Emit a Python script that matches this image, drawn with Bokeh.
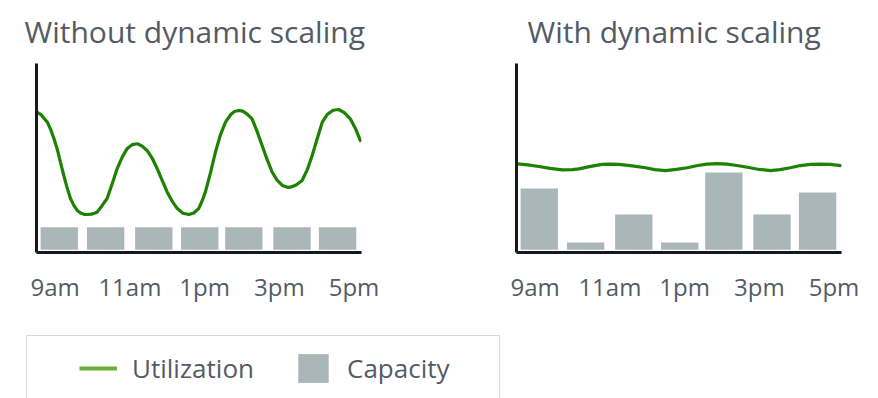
from bokeh.plotting import figure
from bokeh.models import Range1d, FixedTicker, Legend, LegendItem
from bokeh.layouts import row, column
from bokeh.embed import file_html
from bokeh.resources import INLINE

# ---------------- data ----------------
tick_hours = [9, 11, 13, 15, 17]
tick_labels = ["9am", "11am", "1pm", "3pm", "5pm"]

bar_hours = [9.11, 10.35, 11.64, 12.87, 14.05, 15.34, 16.56]
capacity_without = [12.1, 12.1, 12.1, 12.1, 12.1, 12.1, 12.1]
capacity_with = [32.9, 3.9, 18.9, 3.9, 41.5, 18.9, 30.7]

util_without_hours = [8.52, 8.62, 8.70, 8.79, 8.88, 8.97, 9.05, 9.14, 9.23, 9.32, 9.41,
                      9.50, 9.59, 9.68, 9.77, 9.87, 9.97, 10.05, 10.12, 10.25, 10.39,
                      10.52, 10.66, 10.80, 10.93, 11.06, 11.20, 11.33, 11.46, 11.60,
                      11.73, 11.87, 12.00, 12.14, 12.27, 12.42, 12.58, 12.71, 12.84,
                      12.93, 13.02, 13.16, 13.29, 13.42, 13.56, 13.70, 13.80, 13.91,
                      14.02, 14.14, 14.27, 14.40, 14.54, 14.67, 14.81, 14.94, 15.08,
                      15.22, 15.30, 15.45, 15.61, 15.75, 15.88, 16.02, 16.15, 16.28,
                      16.44, 16.59, 16.74, 16.90, 17.04, 17.17]
util_without = [73.8, 72.6, 70.6, 68.5, 64.5, 59.5, 54.4, 47.0, 39.9, 33.2, 27.5,
                23.8, 21.1, 19.7, 19.0, 18.9, 19.1, 19.6, 20.1, 23.5, 27.5,
                35.0, 43.6, 50.0, 54.4, 56.4, 56.9, 55.6, 53.3, 49.0,
                43.6, 37.0, 30.9, 25.8, 22.1, 19.6, 18.9, 19.7, 22.1,
                26.0, 30.9, 41.5, 52.4, 61.5, 68.5, 72.6, 74.2, 74.8,
                74.4, 72.8, 70.3, 63.8, 56.0, 48.6, 41.6, 37.4, 34.5,
                33.5, 33.6, 34.8, 37.2, 43.0, 50.6, 60.0, 68.5, 72.6,
                74.9, 75.3, 73.6, 70.3, 65.0, 58.6]

util_with_hours = [8.52, 8.80, 9.10, 9.40, 9.72, 10.00, 10.17, 10.45, 10.79, 11.00,
                   11.24, 11.60, 11.95, 12.20, 12.49, 12.78, 13.07, 13.35, 13.60,
                   13.87, 14.14, 14.40, 14.68, 15.00, 15.30, 15.55, 15.83, 16.10,
                   16.37, 16.62, 16.90, 17.17]
util_with = [46.1, 45.6, 44.7, 43.7, 42.9, 43.0, 43.4, 44.6, 45.8, 46.0,
             45.8, 45.0, 44.0, 43.0, 42.5, 43.1, 44.0, 45.2, 46.0,
             46.2, 46.0, 45.2, 44.3, 43.1, 42.5, 43.0, 44.0, 45.2,
             45.8, 46.0, 45.8, 45.2]

titles = ["Without dynamic scaling", "With dynamic scaling"]
legend_labels = ["Utilization", "Capacity"]

# ---------------- style ----------------
TEXT = "#545b64"
AXIS = "#16191f"
GREEN = "#1d8102"
LEGEND_GREEN = "#6aaf35"
GREY = "#aab7b8"
FONT = "Open Sans"


def panel(title, width, border_left, border_right, title_offset, hours, util, capacity):
    p = figure(width=width, height=330, output_backend="svg", toolbar_location=None,
               x_range=Range1d(8.5, 17.2), y_range=Range1d(-1.5, 100),
               min_border_left=border_left, min_border_right=border_right,
               min_border_top=63, min_border_bottom=78)
    p.outline_line_color = None
    p.grid.visible = False
    p.background_fill_color = "white"
    p.border_fill_color = "white"

    p.title.text = title
    p.title.align = "left"
    p.title.vertical_align = "top"
    p.title.offset = title_offset
    p.title.text_font = FONT
    p.title.text_font_size = "30px"
    p.title.text_font_style = "normal"
    p.title.text_color = TEXT
    p.title.standoff = 19

    xa = p.below[0]
    xa.ticker = FixedTicker(ticks=tick_hours)
    xa.major_label_overrides = dict(zip(tick_hours, tick_labels))
    xa.major_tick_out = 0
    xa.major_tick_in = 0
    xa.minor_tick_line_color = None
    xa.major_tick_line_color = None
    xa.major_label_standoff = 17
    xa.major_label_text_font = FONT
    xa.major_label_text_font_size = "24px"
    xa.major_label_text_color = TEXT
    xa.axis_line_width = 3
    xa.axis_line_color = AXIS

    ya = p.left[0]
    ya.ticker = FixedTicker(ticks=[])
    ya.major_tick_out = 0
    ya.major_tick_in = 0
    ya.minor_tick_line_color = None
    ya.major_label_standoff = 0
    ya.axis_line_width = 3
    ya.axis_line_color = AXIS

    p.vbar(x=bar_hours, top=capacity, bottom=0, width=1.0,
           fill_color=GREY, line_color=None)
    p.line(x=hours, y=util, line_color=GREEN, line_width=3.2,
           line_join="round", line_cap="round")
    return p


p1 = panel(titles[0], 500, 36, 139, -12, util_without_hours, util_without, capacity_without)
p2 = panel(titles[1], 378, 16, 37, 11, util_with_hours, util_with, capacity_with)

# ---------------- key ----------------
key = figure(width=500, height=68, output_backend="svg", toolbar_location=None,
             x_range=Range1d(0, 1), y_range=Range1d(0, 1),
             min_border=0, x_axis_type=None, y_axis_type=None)
key.outline_line_color = None
key.grid.visible = False
key.background_fill_color = "white"
key.border_fill_color = "white"

nan = float("nan")
util_key = key.line(x=[nan], y=[nan], line_color=LEGEND_GREEN, line_width=4)
cap_key = key.vbar(x=[nan], top=[nan], width=1, fill_color=GREY, line_color=None)

legend = Legend(items=[LegendItem(label=legend_labels[0], renderers=[util_key]),
                       LegendItem(label=legend_labels[1], renderers=[cap_key])],
                location=(26, -3), orientation="horizontal",
                title=" ", title_location="left", title_text_font_size="1px",
                title_standoff=37, padding=14, margin=0, spacing=24,
                glyph_width=38, glyph_height=36, label_standoff=15, label_width=138,
                label_text_font=FONT, label_text_font_size="26px", label_text_color=TEXT,
                border_line_color=GREY, border_line_width=1.5,
                background_fill_color="white", background_fill_alpha=1.0)
key.add_layout(legend)

layout = column(row(p1, p2, spacing=0), key, spacing=0)
open("out.html", "w").write(file_html(layout, INLINE))
